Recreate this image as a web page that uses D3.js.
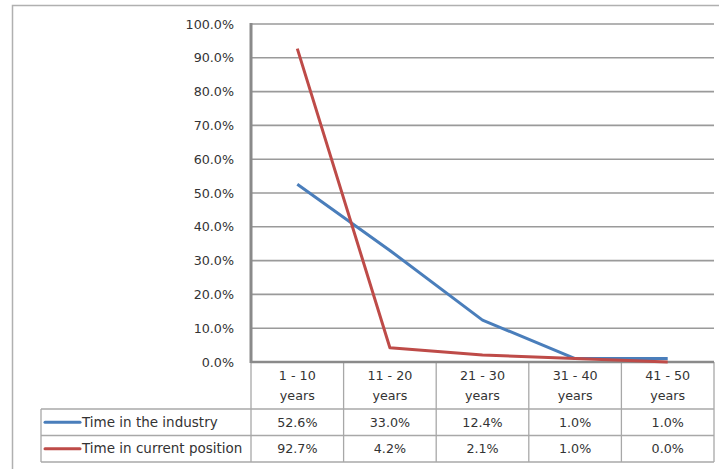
<!DOCTYPE html>
<html>
<head>
<meta charset="utf-8">
<script src="https://cdn.jsdelivr.net/npm/d3@7"></script>
<style>
  html, body { margin: 0; padding: 0; background: #fff; }
  svg text { font-family: "DejaVu Sans", Verdana, sans-serif; font-size: 12.7px; fill: #333; }
  svg text.series-name { font-size: 13.5px; }
</style>
</head>
<body>
<div id="chart"></div>
<script>
// chart data
const categories = ["1 - 10|years", "11 - 20|years", "21 - 30|years", "31 - 40|years", "41 - 50|years"];
const industry = [52.6, 33.0, 12.4, 1.0, 1.0];
const currentPosition = [92.7, 4.2, 2.1, 1.0, 0.0];
const seriesNames = ["Time in the industry", "Time in current position"];
const yTicks = [0, 10, 20, 30, 40, 50, 60, 70, 80, 90, 100];

const width = 719, height = 469;
const plot = { left: 251, right: 714, top: 24, bottom: 362 };
const tableLeft = 41;
const headerBottom = 409, rowH = 26.5;
const colors = ["#4a7ebb", "#be4b48"];

const svg = d3.select("#chart").append("svg")
    .attr("width", width)
    .attr("height", height);

// outer chart frame (runs past the window edges like the original)
svg.append("rect")
    .attr("x", 12.5).attr("y", 5.5)
    .attr("width", 720).attr("height", 480)
    .attr("fill", "none")
    .attr("stroke", "#b0b0b0")
    .attr("stroke-width", 1.5);

const x = d3.scaleBand()
    .domain(categories)
    .range([plot.left, plot.right]);

const y = d3.scaleLinear()
    .domain([0, 100])
    .range([plot.bottom, plot.top]);

// gridlines
svg.append("g")
    .selectAll("line")
    .data(yTicks.filter(d => d > 0))
    .join("line")
    .attr("x1", plot.left).attr("x2", plot.right)
    .attr("y1", d => y(d)).attr("y2", d => y(d))
    .attr("stroke", "#9a9a9a")
    .attr("stroke-width", 1.6);

// y axis labels
const yAxis = svg.append("g")
    .attr("transform", `translate(${plot.left},0)`)
    .call(d3.axisLeft(y).tickValues(yTicks).tickSize(0).tickPadding(17)
        .tickFormat(d => d.toFixed(1) + "%"));
yAxis.select(".domain").remove();
yAxis.selectAll("text").style("font-family", null).style("font-size", null).attr("fill", null);

// table grid below the plot
const rows = seriesNames.length;
const tableBottom = headerBottom + rows * rowH;
const tg = svg.append("g").attr("stroke", "#a8a8a8").attr("stroke-width", 1.3);

// column separators in header
categories.forEach((c, i) => {
    tg.append("line")
        .attr("x1", x(c) + x.bandwidth()).attr("x2", x(c) + x.bandwidth())
        .attr("y1", plot.bottom).attr("y2", tableBottom);
});
tg.append("line")
    .attr("x1", plot.left).attr("x2", plot.left)
    .attr("y1", plot.bottom).attr("y2", tableBottom);
tg.append("line")
    .attr("x1", tableLeft).attr("x2", tableLeft)
    .attr("y1", headerBottom).attr("y2", tableBottom);
d3.range(rows + 1).forEach(r => {
    tg.append("line")
        .attr("x1", tableLeft).attr("x2", plot.right)
        .attr("y1", headerBottom + r * rowH).attr("y2", headerBottom + r * rowH);
});

// x axis (0% line) and left value axis
svg.append("line")
    .attr("x1", plot.left).attr("x2", plot.right)
    .attr("y1", plot.bottom).attr("y2", plot.bottom)
    .attr("stroke", "#8a8a8a").attr("stroke-width", 2.5);
svg.append("line")
    .attr("x1", plot.left).attr("x2", plot.left)
    .attr("y1", plot.top - 1).attr("y2", plot.bottom + 1)
    .attr("stroke", "#8a8a8a").attr("stroke-width", 3);

// category labels (two lines)
const catG = svg.append("g").attr("text-anchor", "middle");
categories.forEach(c => {
    const parts = c.split("|");
    const t = catG.append("text")
        .attr("x", x(c) + x.bandwidth() / 2)
        .attr("y", 380);
    t.append("tspan").attr("x", x(c) + x.bandwidth() / 2).text(parts[0]);
    t.append("tspan").attr("x", x(c) + x.bandwidth() / 2).attr("dy", 20).text(parts[1]);
});

// lines
const line = d3.line()
    .x((d, i) => x(categories[i]) + x.bandwidth() / 2)
    .y(d => y(d));

[industry, currentPosition].forEach((s, k) => {
    svg.append("path")
        .datum(s)
        .attr("fill", "none")
        .attr("stroke", colors[k])
        .attr("stroke-width", 3)
        .attr("stroke-linejoin", "round")
        .attr("d", line);
});

// data table rows
[industry, currentPosition].forEach((s, k) => {
    const cy = headerBottom + k * rowH + rowH / 2;
    svg.append("line")
        .attr("x1", 45).attr("x2", 80)
        .attr("y1", cy).attr("y2", cy)
        .attr("stroke", colors[k]).attr("stroke-width", 3)
        .attr("stroke-linecap", "round");
    svg.append("text")
        .attr("class", "series-name")
        .attr("x", 82).attr("y", cy)
        .attr("dy", "0.35em")
        .text(seriesNames[k]);
    svg.append("g").attr("text-anchor", "middle")
        .selectAll("text")
        .data(s)
        .join("text")
        .attr("x", (d, i) => x(categories[i]) + x.bandwidth() / 2)
        .attr("y", cy)
        .attr("dy", "0.35em")
        .text(d => d.toFixed(1) + "%");
});
</script>
</body>
</html>
